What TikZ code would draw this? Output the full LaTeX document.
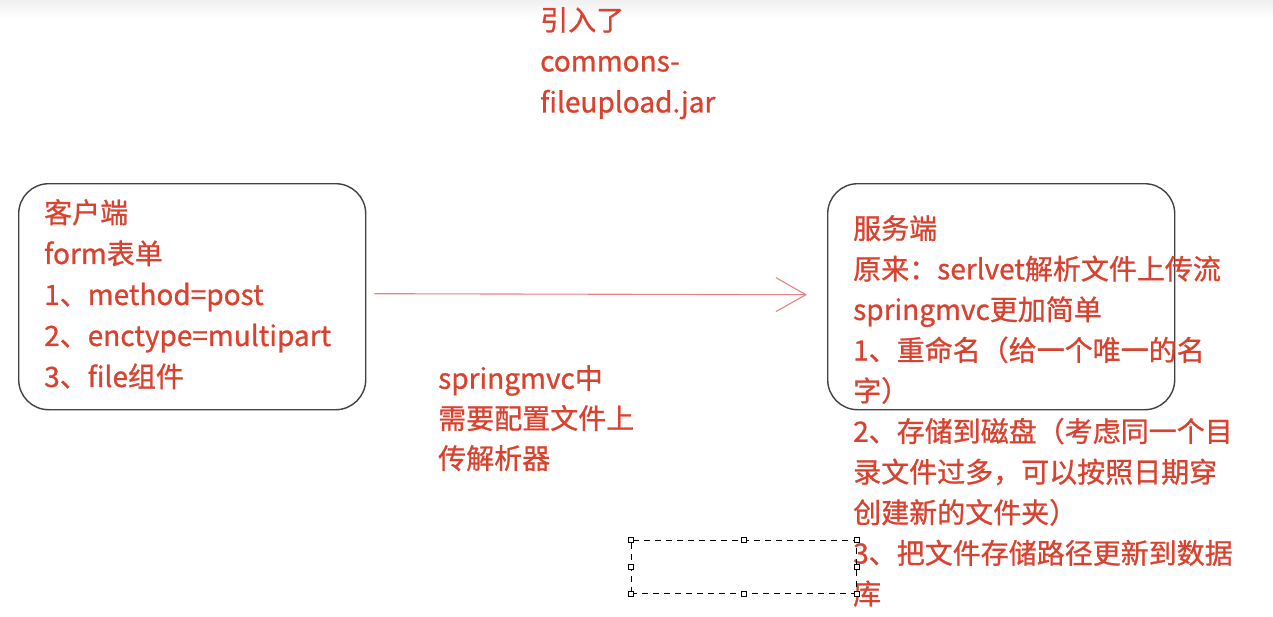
\documentclass[tikz,border=0pt]{standalone}
\usepackage{fontspec}
\setmainfont{Noto Sans CJK SC}[FakeBold=0.9]
\usetikzlibrary{arrows.meta,positioning}
\definecolor{noteRed}{RGB}{216,66,46}
\definecolor{arrowPink}{RGB}{232,130,130}
\definecolor{boxGray}{RGB}{66,66,66}
\tikzset{
  note/.style={align=left,inner sep=0pt,anchor=north west,text=noteRed,
               font=\fontsize{28}{41}\selectfont},
  panel/.style={draw=boxGray,line width=1.4pt,rounded corners=30pt,
                anchor=north west,minimum width=347pt,minimum height=226pt},
  flow/.style={-{Straight Barb[length=30pt,width=34pt]},arrowPink,line width=1.1pt},
  selbox/.style={draw=black,dash pattern=on 6pt off 5pt,line width=0.8pt,
                 anchor=north west,minimum width=225pt,minimum height=53pt},
  handle/.style={draw=black,fill=white,line width=0.8pt,minimum size=5pt,inner sep=0pt},
}

\begin{document}
\begin{tikzpicture}[x=1pt,y=-1pt]
  \useasboundingbox (0,0) rectangle (1273,616);
  \shade[top color=black!6,bottom color=white] (0,0) rectangle (1273,18);

  % two sides
  \node[panel] (client) at (18,183) {};
  \node[panel] (server) at (827,183) {};

  \node[note] (clientTxt) at (44,199)
    {客户端\\form表单\\1、method=post\\2、enctype=multipart\\3、file组件};
  \node[note,font=\fontsize{28}{40.6}\selectfont] (serverTxt) at (853,215)
    {服务端\\原来：serlvet解析文件上传流\\springmvc更加简单\\1、重命名（给一个唯一的名\\字）\\
     2、存储到磁盘（考虑同一个目\\录文件过多，可以按照日期穿\\创建新的文件夹）\\3、把文件存储路径更新到数据\\库};

  \node[note] (jarTxt) at (540,7) {引入了\\commons-\\fileupload.jar};
  \node[note,font=\fontsize{28}{40}\selectfont] (resolverTxt) at (438,365)
    {springmvc中\\需要配置文件上\\传解析器};

  \draw[flow] ([xshift=8pt,yshift=3pt]client.east) -- ([xshift=-20pt,yshift=2pt]server.west);

  % empty selection frame
  \node[selbox] (sel) at (631,540) {};
  \foreach \a [count=\i] in {north west,north,north east,east,south east,south,south west,west}
    \node[handle] (h\i) at (sel.\a) {};
\end{tikzpicture}
\end{document}
